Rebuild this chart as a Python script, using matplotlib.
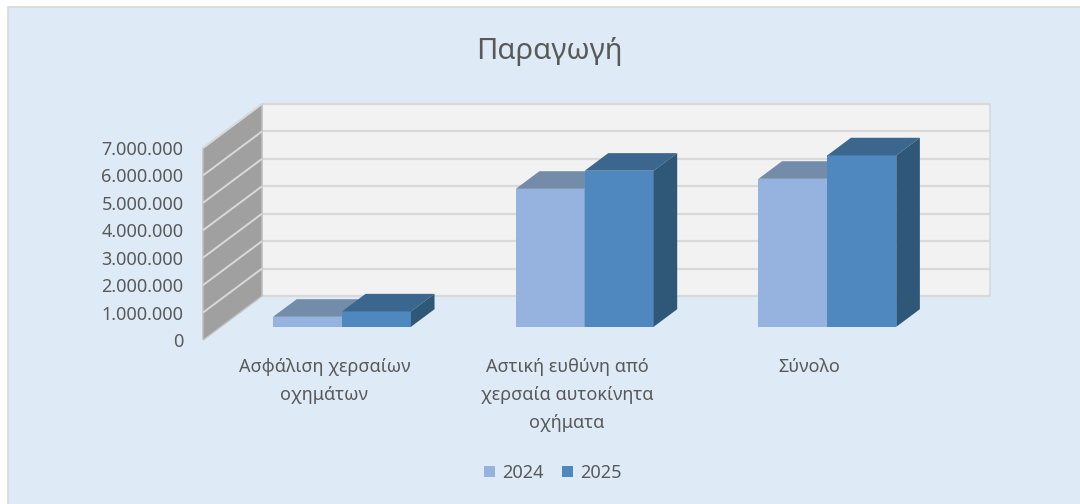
import matplotlib
matplotlib.use('Agg')
import matplotlib.pyplot as plt
from matplotlib.patches import Polygon, Rectangle, Patch
from matplotlib.ticker import FuncFormatter

plt.rcParams['font.family'] = ['Noto Sans', 'DejaVu Sans']

# data
categories = ['Ασφάλιση χερσαίων\nοχημάτων',
              'Αστική ευθύνη από\nχερσαία αυτοκίνητα\nοχήματα',
              'Σύνολο']
series_names = ['2024', '2025']
values_2024 = [365000, 5030000, 5395000]
values_2025 = [560000, 5690000, 6250000]
y_ticks = [0, 1000000, 2000000, 3000000, 4000000, 5000000, 6000000, 7000000]

TEXT = '#595959'
# face colours: front, top, side
STYLE = {
    '2024': ('#95B3DE', '#728CAA', '#5F7896'),
    '2025': ('#4F88BE', '#3B668E', '#2F5878'),
}

# fake 3D depth, in data units (categories / value)
DX = 0.243
DY = 1604000
Z0, Z1 = 0.3, 0.7
BAR_W = 0.284
YMAX = 7000000

fig = plt.figure(figsize=(10.8, 5.04), dpi=100)
fig.patch.set_facecolor('white')
fig.patches.append(Rectangle((8 / 1080, -0.1), 1.2, 497 / 504 + 0.1,
                             transform=fig.transFigure, facecolor='#DEEBF7',
                             edgecolor='#D9D9D9', lw=1.2, zorder=-1))

ax = fig.add_axes([203 / 1080, 164 / 504, 728 / 1080, 192 / 504])
ax.set_facecolor('none')
ax.set_frame_on(False)
ax.set_xlim(-0.5, 2.5)
ax.set_ylim(0, YMAX)

x_lo, x_hi = -0.5, len(categories) - 0.5

# back wall
ax.add_patch(Polygon([(x_lo + DX, DY), (x_hi + DX, DY), (x_hi + DX, YMAX + DY),
                      (x_lo + DX, YMAX + DY)], closed=True, facecolor='#F2F2F2',
                     edgecolor='#D9D9D9', lw=1.2, clip_on=False, zorder=1))
# side wall
ax.add_patch(Polygon([(x_lo, 0), (x_lo + DX, DY), (x_lo + DX, YMAX + DY), (x_lo, YMAX)],
                     closed=True, facecolor='#A0A0A0', edgecolor='#BFBFBF', lw=1,
                     clip_on=False, zorder=1.2))
for t in y_ticks:
    ax.plot([x_lo + DX, x_hi + DX], [t + DY, t + DY], color='#D9D9D9', lw=1.6,
            clip_on=False, zorder=1.1, solid_capstyle='butt')
    if t > 0:
        ax.plot([x_lo, x_lo + DX], [t, t + DY], color='#D9D9D9', lw=1.4,
                clip_on=False, zorder=1.3, solid_capstyle='butt')

# bars
for i in range(len(categories)):
    for j, (name, vals) in enumerate(zip(series_names, [values_2024, values_2025])):
        front, top, side = STYLE[name]
        v = vals[i]
        x0 = i - BAR_W + j * BAR_W + Z0 * DX
        x1 = x0 + BAR_W
        y0 = Z0 * DY
        ddx, ddy = (Z1 - Z0) * DX, (Z1 - Z0) * DY
        z = 2 + j
        ax.add_patch(Polygon([(x0, y0), (x1, y0), (x1, y0 + v), (x0, y0 + v)],
                             facecolor=front, edgecolor='none', clip_on=False, zorder=z))
        ax.add_patch(Polygon([(x0, y0 + v), (x1, y0 + v), (x1 + ddx, y0 + v + ddy),
                              (x0 + ddx, y0 + v + ddy)],
                             facecolor=top, edgecolor='none', clip_on=False, zorder=z))
        ax.add_patch(Polygon([(x1, y0), (x1, y0 + v), (x1 + ddx, y0 + v + ddy),
                              (x1 + ddx, y0 + ddy)],
                             facecolor=side, edgecolor='none', clip_on=False, zorder=z))

ax.set_yticks(y_ticks)
ax.yaxis.set_major_formatter(FuncFormatter(lambda v, p: f'{int(v):,}'.replace(',', '.')))
ax.set_xticks(range(len(categories)))
ax.set_xticklabels(categories)
ax.tick_params(length=0, labelsize=13, colors=TEXT)
ax.tick_params(axis='y', pad=14)
ax.tick_params(axis='x', pad=13)
for lab in ax.get_xticklabels():
    lab.set_linespacing(1.7)

fig.text(549 / 1080, 1 - 51 / 504, 'Παραγωγή', ha='center', va='center',
         fontsize=21, color=TEXT)

handles = [Patch(facecolor=STYLE[n][0], label=n) for n in series_names]
fig.legend(handles=handles, loc='center', bbox_to_anchor=(553 / 1080, 1 - 473 / 504),
           ncol=2, frameon=False, fontsize=13, labelcolor=TEXT, handlelength=0.6,
           handleheight=0.6, handletextpad=0.4, columnspacing=1.0)

plt.savefig('out.png', dpi=100)
plt.close()
